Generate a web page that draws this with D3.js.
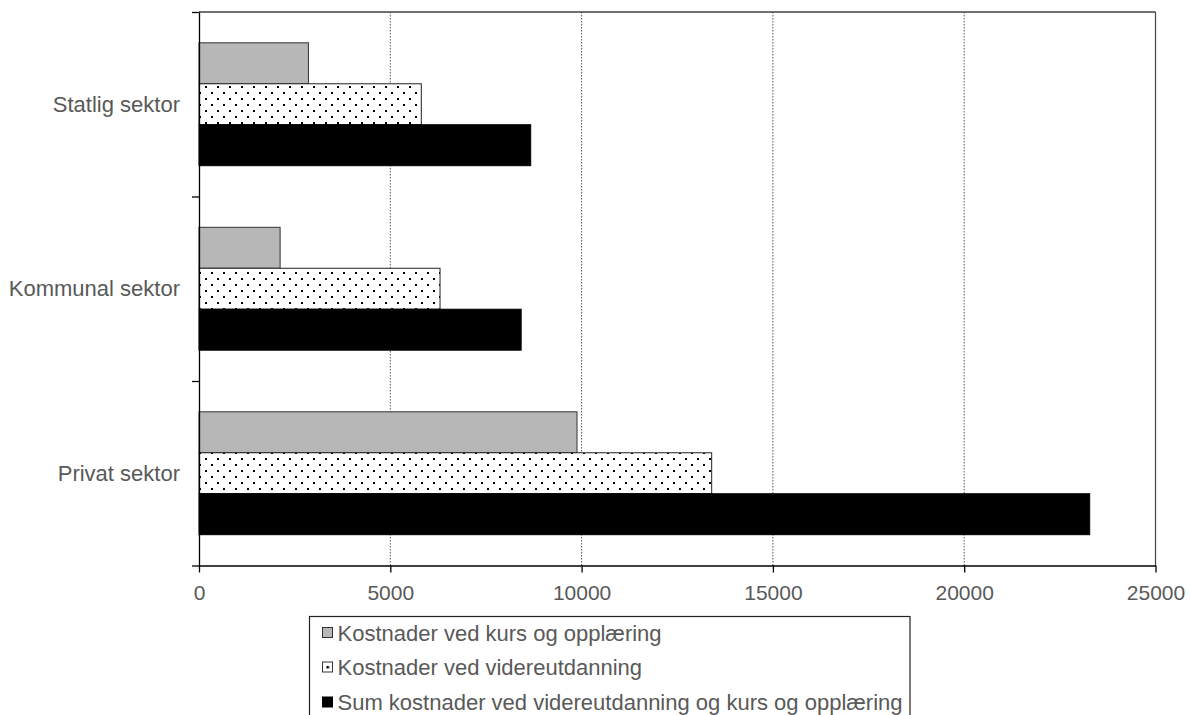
<!DOCTYPE html>
<html>
<head>
<meta charset="utf-8">
<script src="https://cdn.jsdelivr.net/npm/d3@7"></script>
<style>
  html, body { margin: 0; padding: 0; background: #fff; }
  svg { display: block; font-family: "Liberation Sans", Arial, sans-serif; }
</style>
</head>
<body>
<svg id="chart" width="1190" height="715"></svg>
<script>
// ---- data ----
const categories = ["Statlig sektor", "Kommunal sektor", "Privat sektor"];
const seriesNames = [
  "Kostnader ved kurs og opplæring",
  "Kostnader ved videreutdanning",
  "Sum kostnader ved videreutdanning og kurs og opplæring"
];
const kursValues = [2860, 2120, 9880];
const videreValues = [5810, 6300, 13400];
const sumValues = [8670, 8420, 23280];
const xTickValues = [0, 5000, 10000, 15000, 20000, 25000];

// ---- layout ----
const svg = d3.select("#chart");
const plot = { left: 199, right: 1155.5, top: 12, bottom: 565.5 };
const textColor = "#595959";

const x = d3.scaleLinear().domain([0, 25000]).range([plot.left, plot.right]);
const yCat = d3.scaleBand().domain(categories).range([plot.top, plot.bottom]).padding(0);
const bw = yCat.bandwidth();
const ySeries = d3.scaleBand().domain(d3.range(3))
  .range([bw * 0.167, bw * 0.833]).padding(0);

// pattern
const defs = svg.append("defs");
const pat = defs.append("pattern").attr("id", "dots")
  .attr("patternUnits", "userSpaceOnUse")
  .attr("width", 12).attr("height", 12)
  .attr("x", plot.left + 6).attr("y", 2);
pat.append("rect").attr("width", 12).attr("height", 12).attr("fill", "#fff");
pat.append("rect").attr("x", 0).attr("y", 0).attr("width", 2).attr("height", 2).attr("fill", "#000")
  .attr("shape-rendering", "crispEdges");
pat.append("rect").attr("x", 6).attr("y", 6).attr("width", 2).attr("height", 2).attr("fill", "#000")
  .attr("shape-rendering", "crispEdges");

const legPat = defs.append("pattern").attr("id", "dotLeg")
  .attr("patternUnits", "objectBoundingBox").attr("width", 1).attr("height", 1);
legPat.append("rect").attr("width", 10).attr("height", 10).attr("fill", "#fff");
legPat.append("rect").attr("x", 4).attr("y", 4).attr("width", 2.5).attr("height", 2.5).attr("fill", "#000");

const fills = ["#b7b7b7", "url(#dots)", "#000"];
const strokes = ["#333", "#222", "#000"];

// gridlines
svg.append("g").selectAll("line")
  .data(xTickValues.filter(v => v > 0))
  .join("line")
  .attr("x1", d => x(d)).attr("x2", d => x(d))
  .attr("y1", plot.top).attr("y2", plot.bottom)
  .attr("stroke", "#555").attr("stroke-width", 1)
  .attr("stroke-dasharray", "1.5,1.5");

// top / right border
svg.append("line")
  .attr("x1", plot.left).attr("x2", plot.right)
  .attr("y1", plot.top).attr("y2", plot.top)
  .attr("stroke", "#404040").attr("stroke-width", 1.3);
svg.append("line")
  .attr("x1", plot.right).attr("x2", plot.right)
  .attr("y1", plot.top).attr("y2", plot.bottom)
  .attr("stroke", "#444").attr("stroke-width", 1.2);

// bars
const seriesData = [kursValues, videreValues, sumValues];
const barG = svg.append("g");
seriesData.forEach((vals, si) => {
  barG.append("g").selectAll("rect")
    .data(categories.map((c, i) => ({ c, v: vals[i] })))
    .join("rect")
    .attr("x", x(0))
    .attr("y", d => yCat(d.c) + ySeries(si))
    .attr("width", d => x(d.v) - x(0))
    .attr("height", ySeries.bandwidth())
    .attr("fill", fills[si])
    .attr("stroke", strokes[si])
    .attr("stroke-width", 1);
});

// left axis (category boundaries)
const yIdx = d3.scaleLinear().domain([0, categories.length]).range([plot.top, plot.bottom]);
const leftAxis = svg.append("g").attr("transform", `translate(${plot.left},0)`)
  .call(d3.axisLeft(yIdx).tickValues(d3.range(categories.length + 1)).tickFormat("").tickSize(7).tickSizeOuter(0));
leftAxis.selectAll("line, path").attr("stroke", "#000").attr("stroke-width", 1.3);

// category labels
svg.append("g").selectAll("text")
  .data(categories)
  .join("text")
  .attr("x", 180)
  .attr("y", d => yCat(d) + bw / 2)
  .attr("dy", "0.35em")
  .attr("text-anchor", "end")
  .attr("fill", textColor)
  .attr("font-size", "22px")
  .text(d => d);

// bottom axis
const bottomAxis = svg.append("g").attr("transform", `translate(0,${plot.bottom})`)
  .call(d3.axisBottom(x).tickValues(xTickValues).tickFormat(d3.format("d")).tickSize(7).tickPadding(13).tickSizeOuter(0));
bottomAxis.selectAll("line, path").attr("stroke", "#000").attr("stroke-width", 1.3);
bottomAxis.selectAll("text")
  .attr("fill", textColor)
  .attr("font-size", "21px")
  .attr("font-family", "Liberation Sans, Arial, sans-serif");

// legend
const legend = svg.append("g");
legend.append("rect")
  .attr("x", 309.5).attr("y", 616.5)
  .attr("width", 600.5).attr("height", 130)
  .attr("fill", "#fff").attr("stroke", "#222").attr("stroke-width", 1.2);
const legFills = ["#b7b7b7", "url(#dotLeg)", "#000"];
const rowBaselines = [640.5, 675, 710];
seriesNames.forEach((name, i) => {
  legend.append("rect")
    .attr("x", 322.5).attr("y", rowBaselines[i] - 13)
    .attr("width", 10).attr("height", 10)
    .attr("fill", legFills[i])
    .attr("stroke", i === 2 ? "#000" : "#333").attr("stroke-width", 1);
  legend.append("text")
    .attr("x", 337.5).attr("y", rowBaselines[i])
    .attr("fill", textColor)
    .attr("font-size", "22px")
    .text(name);
});
</script>
</body>
</html>
